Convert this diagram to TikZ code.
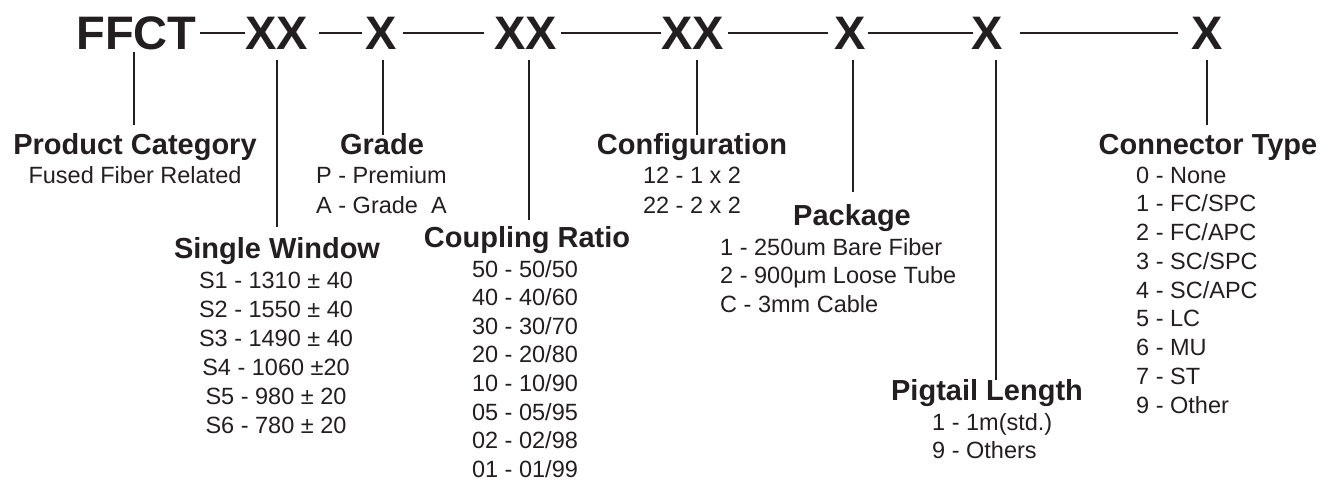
\documentclass[tikz,border=0pt]{standalone}
\usepackage{fontspec}
\setmainfont{Liberation Sans}
\usetikzlibrary{calc}
\definecolor{ink}{HTML}{231F20}
\begin{document}
\begin{tikzpicture}[x=1pt,y=-1pt,
  code/.style={font=\fontsize{47}{47}\selectfont\bfseries, inner sep=0pt, text height=34pt, text depth=0pt, anchor=base, text=ink},
  ttl/.style={font=\fontsize{29}{29}\selectfont\bfseries, inner sep=0pt, anchor=base, text=ink},
  itm/.style={font=\fontsize{23.5}{23.5}\selectfont, inner sep=0pt, anchor=base, text=ink},
  itml/.style={itm, anchor=base west},
  ln/.style={draw=ink, line width=1.1pt}]
\useasboundingbox (0,0) rectangle (1332,481);
% code row
\node[code] (c1) at (136.5,50) {FFCT};
\node[code] (c2) at (276.5,50) {XX};
\node[code] (c3) at (381,50) {X};
\node[code] (c4) at (525.5,50) {XX};
\node[code] (c5) at (692.5,50) {XX};
\node[code] (c6) at (850.5,50) {X};
\node[code] (c7) at (987.5,50) {X};
\node[code] (c8) at (1207.5,50) {X};
% horizontal connectors
\draw[ln] ([xshift=3pt]c1.east) -- (c2.west);
\draw[ln] ([xshift=11pt]c2.east) -- ([xshift=-3pt]c3.west);
\draw[ln] ([xshift=6pt]c3.east) -- ([xshift=-10pt]c4.west);
\draw[ln] ([xshift=4pt]c4.east) -- (c5.west);
\draw[ln] ([xshift=4pt]c5.east) -- ([xshift=-7pt]c6.west);
\draw[ln] ([xshift=2pt]c6.east) -- ([xshift=1pt]c7.west);
\draw[ln] ([xshift=17pt]c7.east) -- ([xshift=-14pt]c8.west);
% titles
\node[ttl] (tPC) at (135,155) {Product Category};
\node[ttl] (tGR) at (382,155) {Grade};
\node[ttl] (tSW) at (277,258) {Single Window};
\node[ttl] (tCR) at (527,247) {Coupling Ratio};
\node[ttl] (tCF) at (692,155) {Configuration};
\node[ttl] (tPK) at (852,225) {Package};
\node[ttl] (tPL) at (987,400) {Pigtail Length};
\node[ttl] (tCT) at (1208,155) {Connector Type};
% vertical connectors
\coordinate (e1) at (134,125);
\coordinate (e2) at (277,227);
\coordinate (e3) at (383,135);
\coordinate (e4) at (529,220);
\coordinate (e5) at (697,135);
\coordinate (e6) at (853,192);
\coordinate (e7) at (996,380);
\coordinate (e8) at (1207,125);
\draw[ln] ($(c1.base -| e1)+(0,2)$) -- (e1);
\draw[ln] ($(c2.base -| e2)+(0,10)$) -- (e2);
\draw[ln] ($(c3.base -| e3)+(0,10)$) -- (e3);
\draw[ln] ($(c4.base -| e4)+(0,10)$) -- (e4);
\draw[ln] ($(c5.base -| e5)+(0,10)$) -- (e5);
\draw[ln] ($(c6.base -| e6)+(0,10)$) -- (e6);
\draw[ln] ($(c7.base -| e7)+(0,10)$) -- (e7);
\draw[ln] ($(c8.base -| e8)+(0,10)$) -- (e8);
% items
\node[itm] (pc1) at (135,183) {Fused Fiber Related};
\node[itml] (gr1) at (316,183) {P - Premium};
\node[itml] (gr2) at (316,213) {A - Grade\ \ A};
\foreach \t [count=\i] in {S1 - 1310 ± 40, S2 - 1550 ± 40, S3 - 1490 ± 40, S4 - 1060 ±20, S5 - 980 ± 20, S6 - 780 ± 20}
  \node[itm] (sw\i) at (276,{288+29*(\i-1)}) {\t};
\foreach \t [count=\i] in {50 - 50/50, 40 - 40/60, 30 - 30/70, 20 - 20/80, 10 - 10/90, 05 - 05/95, 02 - 02/98, 01 - 01/99}
  \node[itm] (cr\i) at (525,{277+28.6*(\i-1)}) {\t};
\node[itm] (cf1) at (692,183) {12 - 1 x 2};
\node[itm] (cf2) at (692,213) {22 - 2 x 2};
\node[itml] (pk1) at (720,255) {1 - 250um Bare Fiber};
\node[itml] (pk2) at (720,283.5) {2 - 900μm Loose Tube};
\node[itml] (pk3) at (720,312) {C - 3mm Cable};
\node[itml] (pl1) at (932,430) {1 - 1m(std.)};
\node[itml] (pl2) at (932,458) {9 - Others};
\foreach \t [count=\i] in {0 - None, 1 - FC/SPC, 2 - FC/APC, 3 - SC/SPC, 4 - SC/APC, 5 - LC, 6 - MU, 7 - ST, 9 - Other}
  \node[itml] (ct\i) at (1136,{183+28.75*(\i-1)}) {\t};
\end{tikzpicture}
\end{document}
